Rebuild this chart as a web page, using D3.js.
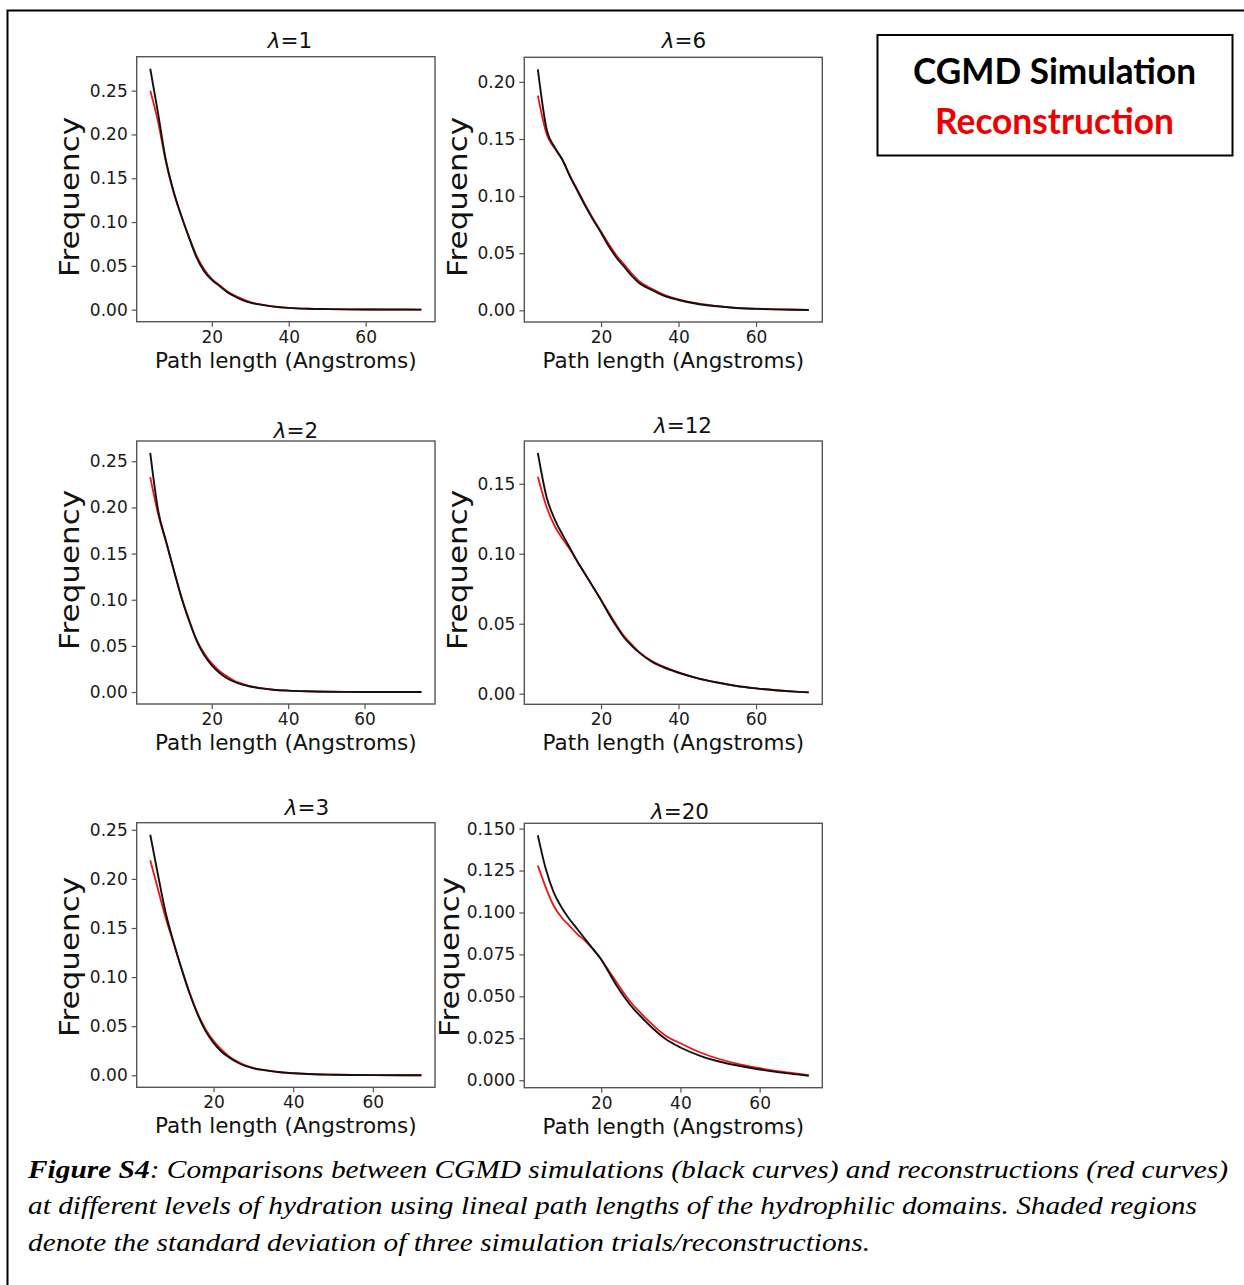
<!DOCTYPE html>
<html>
<head>
<meta charset="utf-8">
<script src="https://cdn.jsdelivr.net/npm/d3@7"></script>
<style>
  html, body { margin: 0; padding: 0; background: #fff; }
  svg { display: block; }
</style>
</head>
<body>
<svg id="chart" width="1244" height="1285"></svg>
<script>
// ---------------- DATA ----------------
const panelLabels = ["1", "6", "2", "12", "3", "20"];          // λ values, panel order (row-major)
const pathLengthGrid = [6, 8, 10, 12, 14, 16, 18, 20, 22, 24, 26, 28, 30, 33, 36, 40, 45, 50, 55, 60, 65, 70];
const firstPathLength = [4.0, 3.7, 3.9, 3.7, 4.1, 4.0];
const lastPathLength = [74.5, 73.6, 74.9, 73.6, 72.2, 72.4];

// CGMD simulation (black) — one value per path length (first, grid..., last)
const simLambda1  = [0.275, 0.225, 0.172, 0.136, 0.108, 0.083, 0.060, 0.044, 0.034, 0.027, 0.020, 0.015, 0.011, 0.008, 0.0055, 0.0035, 0.002, 0.001, 0.0006, 0.0003, 0.0002, 0.0001, 0.0001, 0.0];
const simLambda6  = [0.211, 0.158, 0.143, 0.132, 0.117, 0.104, 0.091, 0.079, 0.068, 0.056, 0.046, 0.038, 0.030, 0.0235, 0.018, 0.013, 0.009, 0.0055, 0.0035, 0.002, 0.0013, 0.0008, 0.0005, 0.0003];
const simLambda2  = [0.259, 0.196, 0.164, 0.133, 0.103, 0.078, 0.056, 0.040, 0.029, 0.021, 0.015, 0.011, 0.008, 0.006, 0.004, 0.0025, 0.0015, 0.0008, 0.0004, 0.0002, 0.0001, 0.0001, 0.0, 0.0];
const simLambda12 = [0.172, 0.140, 0.125, 0.114, 0.104, 0.094, 0.085, 0.076, 0.067, 0.057, 0.048, 0.040, 0.034, 0.029, 0.023, 0.019, 0.015, 0.011, 0.008, 0.0055, 0.0038, 0.0025, 0.0015, 0.001];
const simLambda3  = [0.245, 0.205, 0.165, 0.135, 0.108, 0.083, 0.062, 0.045, 0.033, 0.024, 0.018, 0.013, 0.0095, 0.007, 0.005, 0.0033, 0.002, 0.001, 0.0006, 0.0003, 0.0002, 0.0001, 0.0, 0.0];
const simLambda20 = [0.146, 0.126, 0.112, 0.103, 0.096, 0.090, 0.084, 0.078, 0.072, 0.064, 0.056, 0.049, 0.043, 0.038, 0.031, 0.025, 0.0195, 0.0145, 0.011, 0.0085, 0.0064, 0.0047, 0.0033, 0.0027];

// Reconstruction (red)
const recLambda1  = [0.250, 0.215, 0.170, 0.135, 0.108, 0.084, 0.062, 0.046, 0.035, 0.028, 0.021, 0.016, 0.012, 0.0085, 0.0058, 0.0037, 0.0021, 0.0011, 0.0006, 0.0003, 0.0002, 0.0001, 0.0001, 0.0];
const recLambda6  = [0.188, 0.154, 0.142, 0.132, 0.118, 0.105, 0.092, 0.080, 0.069, 0.058, 0.048, 0.040, 0.032, 0.025, 0.019, 0.014, 0.0095, 0.006, 0.0037, 0.0022, 0.0014, 0.0009, 0.0005, 0.0003];
const recLambda2  = [0.233, 0.192, 0.163, 0.133, 0.104, 0.079, 0.057, 0.042, 0.031, 0.023, 0.017, 0.012, 0.009, 0.0065, 0.0043, 0.0027, 0.0016, 0.0008, 0.0004, 0.0002, 0.0001, 0.0001, 0.0, 0.0];
const recLambda12 = [0.155, 0.133, 0.120, 0.111, 0.103, 0.094, 0.085, 0.076, 0.067, 0.058, 0.049, 0.041, 0.035, 0.0295, 0.0235, 0.0195, 0.0152, 0.011, 0.008, 0.0055, 0.0038, 0.0025, 0.0015, 0.001];
const recLambda3  = [0.219, 0.190, 0.160, 0.134, 0.108, 0.084, 0.063, 0.047, 0.035, 0.026, 0.019, 0.014, 0.010, 0.0075, 0.0053, 0.0035, 0.0021, 0.0011, 0.0006, 0.0003, 0.0002, 0.0001, 0.0, 0.0];
const recLambda20 = [0.128, 0.115, 0.104, 0.097, 0.092, 0.087, 0.083, 0.078, 0.072, 0.065, 0.058, 0.051, 0.045, 0.040, 0.033, 0.027, 0.022, 0.0165, 0.0125, 0.0095, 0.0072, 0.0053, 0.0038, 0.003];

const simSeries = [simLambda1, simLambda6, simLambda2, simLambda12, simLambda3, simLambda20];
const recSeries = [recLambda1, recLambda6, recLambda2, recLambda12, recLambda3, recLambda20];

// Tick values
const xTickValues = [20, 40, 60];
const yTicks025 = [0.00, 0.05, 0.10, 0.15, 0.20, 0.25];
const yTicks020 = [0.00, 0.05, 0.10, 0.15, 0.20];
const yTicks015 = [0.00, 0.05, 0.10, 0.15];
const yTicks0150 = [0.000, 0.025, 0.050, 0.075, 0.100, 0.125, 0.150];
const yTickSets = [yTicks025, yTicks020, yTicks025, yTicks015, yTicks025, yTicks0150];
const yTickFormats = [".2f", ".2f", ".2f", ".2f", ".2f", ".3f"];

const xAxisLabel = "Path length (Angstroms)";
const yAxisLabel = "Frequency";
const legendLabels = ["CGMD Simulation", "Reconstruction"];
const captionBold = "Figure S4";
const captionLines = [
  ": Comparisons between CGMD simulations (black curves) and reconstructions (red curves)",
  "at different levels of hydration using lineal path lengths of the hydrophilic domains. Shaded regions",
  "denote the standard deviation of three simulation trials/reconstructions."
];

// ---------------- LAYOUT ----------------
const boxes = [
  {l: 136.7, r: 435.0, t: 56.7, b: 321.7, tx: 290, ty: 48, fx: 79, fy: 197},
  {l: 524.3, r: 822.3, t: 57.3, b: 322.0, tx: 684, ty: 48, fx: 467, fy: 197},
  {l: 136.7, r: 435.0, t: 441.0, b: 704.0, tx: 296, ty: 438, fx: 79, fy: 570},
  {l: 524.3, r: 822.3, t: 441.0, b: 704.3, tx: 683, ty: 433, fx: 467, fy: 570},
  {l: 136.7, r: 435.0, t: 822.7, b: 1087.3, tx: 307, ty: 815, fx: 79, fy: 957},
  {l: 524.3, r: 822.3, t: 823.3, b: 1087.7, tx: 680, ty: 819, fx: 459, fy: 957}
];

const svg = d3.select("#chart");
const SANS = "DejaVu Sans, sans-serif";
const BLACK_LINE = "#111111";
const RED_LINE = "#ee1515";
const AXIS_GRAY = "#555555";

// outer frame (top and left edges visible)
svg.append("path")
  .attr("d", "M7.5,1290 V10.5 H1250")
  .attr("fill", "none").attr("stroke", "#000").attr("stroke-width", 2);

function padDomain(vals) {
  const lo = d3.min(vals), hi = d3.max(vals);
  const m = (hi - lo) * 0.05;
  return [lo - m, hi + m];
}

boxes.forEach((bx, i) => {
  const xs = [firstPathLength[i], ...pathLengthGrid, lastPathLength[i]];
  const sim = simSeries[i], rec = recSeries[i];
  const x = d3.scaleLinear().domain(padDomain(xs)).range([bx.l, bx.r]);
  const y = d3.scaleLinear().domain(padDomain(sim.concat(rec))).range([bx.b, bx.t]);

  const g = svg.append("g");

  // x axis
  const xa = g.append("g").attr("transform", `translate(0,${bx.b})`)
    .call(d3.axisBottom(x).tickValues(xTickValues).tickSize(5).tickPadding(4).tickFormat(d3.format("d")));
  xa.select(".domain").remove();
  xa.selectAll("line").attr("stroke", AXIS_GRAY).attr("stroke-width", 1.2);
  xa.selectAll("text").attr("font-family", SANS).attr("font-size", 17).attr("fill", "#1a1a1a");

  // y axis
  const ya = g.append("g").attr("transform", `translate(${bx.l},0)`)
    .call(d3.axisLeft(y).tickValues(yTickSets[i]).tickSize(5).tickPadding(4).tickFormat(d3.format(yTickFormats[i])));
  ya.select(".domain").remove();
  ya.selectAll("line").attr("stroke", AXIS_GRAY).attr("stroke-width", 1.2);
  ya.selectAll("text").attr("font-family", SANS).attr("font-size", 17).attr("fill", "#1a1a1a");

  // lines
  const line = d3.line().x((d, k) => x(xs[k])).y(d => y(d)).curve(d3.curveMonotoneX);
  g.append("path").datum(rec).attr("d", line)
    .attr("fill", "none").attr("stroke", RED_LINE).attr("stroke-width", 1.8).attr("stroke-linejoin", "round");
  g.append("path").datum(sim).attr("d", line)
    .attr("fill", "none").attr("stroke", BLACK_LINE).attr("stroke-width", 1.9).attr("stroke-linejoin", "round");

  // frame
  g.append("rect").attr("x", bx.l).attr("y", bx.t).attr("width", bx.r - bx.l).attr("height", bx.b - bx.t)
    .attr("fill", "none").attr("stroke", AXIS_GRAY).attr("stroke-width", 1.4);

  // title
  const t = g.append("text").attr("x", bx.tx).attr("y", bx.ty).attr("text-anchor", "middle")
    .attr("font-family", SANS).attr("font-size", 21.5).attr("fill", "#111");
  t.append("tspan").attr("font-style", "italic").text("λ");
  t.append("tspan").text("=" + panelLabels[i]);

  // x label
  g.append("text").attr("x", (bx.l + bx.r) / 2).attr("y", bx.b + 46).attr("text-anchor", "middle")
    .attr("font-family", SANS).attr("font-size", 21.5).attr("fill", "#111").text(xAxisLabel);

  // y label
  g.append("text").attr("transform", `translate(${bx.fx},${bx.fy}) rotate(-90)`).attr("text-anchor", "middle")
    .attr("font-family", SANS).attr("font-size", 27).attr("fill", "#111")
    .attr("textLength", 160).attr("lengthAdjust", "spacingAndGlyphs").text(yAxisLabel);
});

// legend box
svg.append("rect").attr("x", 877.5).attr("y", 35).attr("width", 355).attr("height", 120.5)
  .attr("fill", "#fff").attr("stroke", "#000").attr("stroke-width", 2);
svg.append("text").attr("x", 1054.5).attr("y", 84).attr("text-anchor", "middle")
  .attr("font-family", "Lato, 'Open Sans', sans-serif").attr("font-weight", 700).attr("font-size", 36)
  .attr("fill", "#000").attr("textLength", 283).attr("lengthAdjust", "spacingAndGlyphs").text(legendLabels[0]);
svg.append("text").attr("x", 1054.5).attr("y", 134).attr("text-anchor", "middle")
  .attr("font-family", "Lato, 'Open Sans', sans-serif").attr("font-weight", 700).attr("font-size", 36)
  .attr("fill", "#ee0000").attr("textLength", 239).attr("lengthAdjust", "spacingAndGlyphs").text(legendLabels[1]);

// caption
const SERIF = "'Liberation Serif', 'Times New Roman', serif";
const capY = [1178, 1214, 1251];
const capW = [1200, 1169, 842];
captionLines.forEach((ln, k) => {
  const t = svg.append("text").attr("x", 28).attr("y", capY[k])
    .attr("font-family", SERIF).attr("font-style", "italic").attr("font-size", 26).attr("fill", "#000")
    .attr("textLength", capW[k]).attr("lengthAdjust", "spacingAndGlyphs");
  if (k === 0) t.append("tspan").attr("font-weight", 700).text(captionBold);
  t.append("tspan").text(ln);
});
</script>
</body>
</html>
